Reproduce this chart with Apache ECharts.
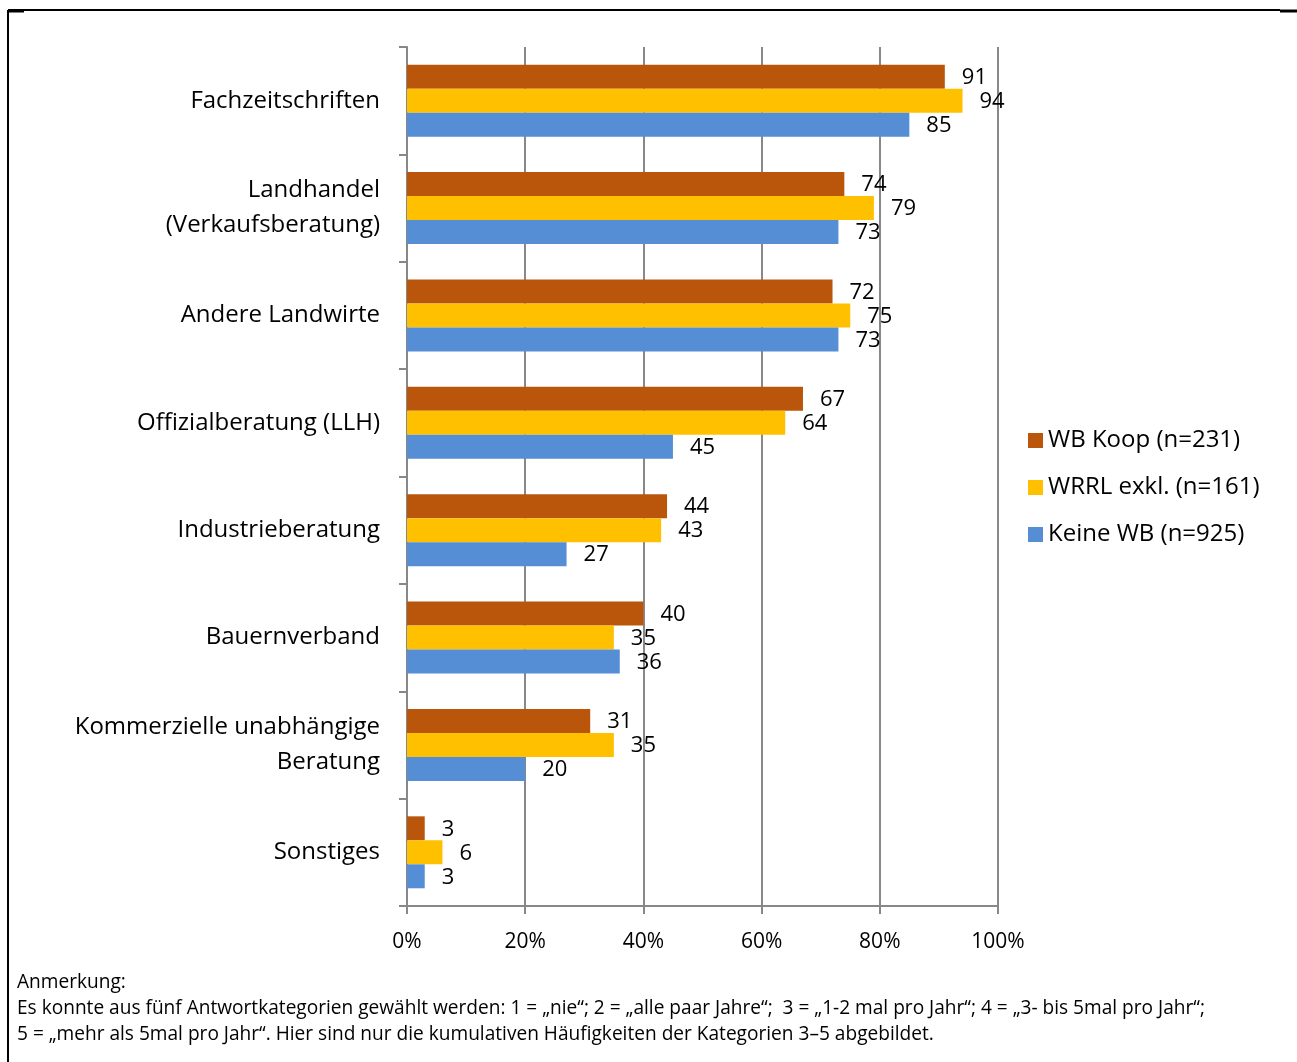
<!DOCTYPE html>
<html><head><meta charset="utf-8">
<script src="https://cdn.jsdelivr.net/npm/echarts@6/dist/echarts.min.js"></script>
<style>html,body{margin:0;padding:0;background:#fff}#c{width:1297px;height:1062px}</style>
</head><body><div id="c"></div>
<script>
const categories = ["Fachzeitschriften", "Landhandel\n(Verkaufsberatung)", "Andere Landwirte", "Offizialberatung (LLH)", "Industrieberatung", "Bauernverband", "Kommerzielle unabhängige\nBeratung", "Sonstiges"];
const seriesNames = ["WB Koop (n=231)", "WRRL exkl. (n=161)", "Keine WB (n=925)"];
const wbKoop = [91, 74, 72, 67, 44, 40, 31, 3];
const wrrlExkl = [94, 79, 75, 64, 43, 35, 35, 6];
const keineWB = [85, 73, 73, 45, 27, 36, 20, 3];
const xTicks = [0, 20, 40, 60, 80, 100];
const colors = ["#B9560C", "#FFC000", "#558ED5"];
const noteLines = [
  "Anmerkung:",
  "Es konnte aus fünf Antwortkategorien gewählt werden: 1 = „nie“; 2 = „alle paar Jahre“;  3 = „1-2 mal pro Jahr“; 4 = „3- bis 5mal pro Jahr“;",
  "5 = „mehr als 5mal pro Jahr“. Hier sind nur die kumulativen Häufigkeiten der Kategorien 3–5 abgebildet."
];
const FONT = "Open Sans";
const chart = echarts.init(document.getElementById('c'), null, {renderer: 'canvas'});
const mk = (name, data, i) => ({
  name, type: 'bar', data, barGap: '0%', barCategoryGap: '33%',
  itemStyle: {color: colors[i]},
  label: {show: true, position: 'right', distance: 17, color: '#000', fontFamily: FONT, fontSize: 22,
    offset: [0, 1], formatter: p => p.value}
});
chart.setOption({
  animation: false,
  textStyle: {fontFamily: FONT},
  grid: {left: 407, right: 299, top: 47, bottom: 156, containLabel: false},
  legend: {
    orient: 'vertical', left: 1023, top: 419, itemGap: 14, itemWidth: 15, itemHeight: 15,
    icon: 'rect', textStyle: {fontFamily: FONT, fontSize: 24, color: '#000', lineHeight: 33},
    data: seriesNames
  },
  xAxis: {
    type: 'value', min: 0, max: 100, interval: 20,
    axisLine: {show: true, lineStyle: {color: '#888', width: 2}},
    axisTick: {show: true, length: 8, lineStyle: {color: '#888', width: 2}},
    axisLabel: {formatter: v => xTicks.includes(v) ? v + '%' : '', fontFamily: FONT, fontSize: 21, color: '#000', margin: 26},
    splitLine: {show: true, lineStyle: {color: '#888', width: 2}}
  },
  yAxis: {
    type: 'category', data: categories, inverse: true,
    axisLine: {show: true, lineStyle: {color: '#888', width: 2}},
    axisTick: {show: true, length: 8, lineStyle: {color: '#888', width: 2}},
    axisLabel: {fontFamily: FONT, fontSize: 24, color: '#000', margin: 27, lineHeight: 35, align: 'right'}
  },
  series: [mk(seriesNames[0], wbKoop, 0), mk(seriesNames[1], wrrlExkl, 1), mk(seriesNames[2], keineWB, 2)],
  graphic: [
    {type: 'line', shape: {x1: 8, y1: 10, x2: 1280, y2: 10}, style: {stroke: '#000', lineWidth: 2}},
    {type: 'line', shape: {x1: 1280, y1: 11, x2: 1297, y2: 11}, style: {stroke: '#000', lineWidth: 3}},
    {type: 'line', shape: {x1: 8, y1: 10, x2: 8, y2: 1062}, style: {stroke: '#000', lineWidth: 2}},
    {type: 'line', shape: {x1: 8, y1: 11, x2: 24, y2: 11}, style: {stroke: '#000', lineWidth: 3}},
    ...noteLines.map((t, i) => ({type: 'text', left: 17, top: 973 + i * 26,
      style: {text: t, fontFamily: FONT, fontSize: 19.1, fill: '#000'}}))
  ]
});
</script></body></html>
